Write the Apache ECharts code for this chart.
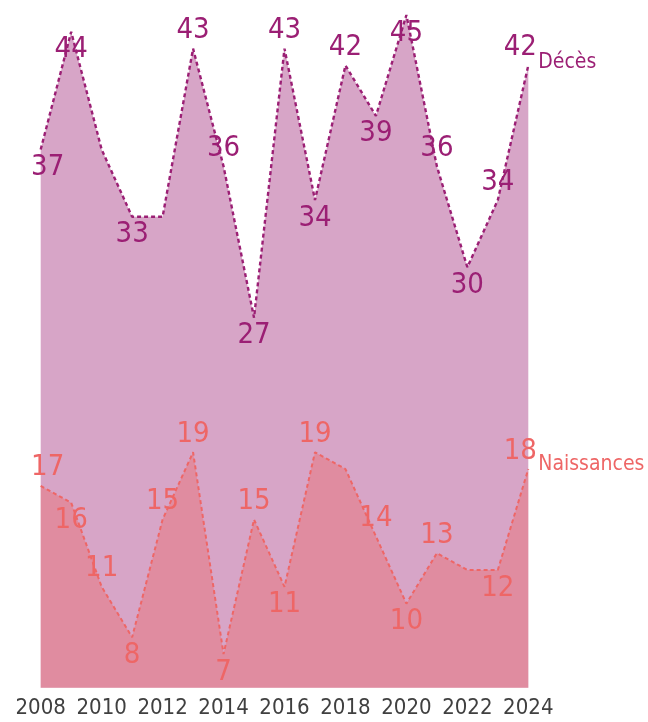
<!DOCTYPE html>
<html>
<head>
<meta charset="utf-8">
<script src="https://cdn.jsdelivr.net/npm/echarts@6/dist/echarts.min.js"></script>
<style>
html,body{margin:0;padding:0;background:#fff;}
#c{width:648px;height:722px;}
</style>
</head>
<body>
<div id="c"></div>
<script>
// ---- data ----
var years = ['2008','2009','2010','2011','2012','2013','2014','2015','2016','2017','2018','2019','2020','2021','2022','2023','2024'];
var deces = [37,44,37,33,33,43,36,27,43,34,42,39,45,36,30,34,42];
var naissances = [17,16,11,8,15,19,7,15,11,19,18,14,10,13,12,12,18];
var seriesNames = ['Décès','Naissances'];

// ---- label placement (style) ----
var decesSide = ['b','b','-','b','-','t','t','b','t','b','t','b','b','t','b','t','t'];
var naisSide  = ['t','b','t','b','t','t','b','t','b','t','-','t','b','t','-','b','t'];

var FONT = '"DejaVu Sans Condensed","DejaVu Sans",sans-serif';
var purple = '#9B1F74';
var salmon = '#EE6666';

function buildData(values, sides, color) {
  return values.map(function (v, i) {
    var s = sides[i];
    var dx = i === 0 ? 7 : (i === values.length - 1 ? -8 : 0);
    return {
      value: v,
      label: {
        show: s !== '-',
        position: s === 't' ? 'top' : 'bottom',
        distance: 3,
        offset: [dx, 0],
        color: color
      }
    };
  });
}

var chart = echarts.init(document.getElementById('c'), null, {renderer: 'canvas'});
chart.setOption({
  animation: false,
  backgroundColor: '#ffffff',
  grid: {left: 40.7, right: 119.7, top: 15, bottom: 34.3, containLabel: false},
  xAxis: {
    type: 'category',
    data: years,
    boundaryGap: false,
    axisLine: {show: false},
    axisTick: {show: false},
    axisLabel: {
      interval: 1,
      showMinLabel: true,
      showMaxLabel: true,
      color: '#404040',
      fontFamily: FONT,
      fontSize: 22,
      margin: 10
    }
  },
  yAxis: {
    type: 'value',
    min: 5,
    max: 45,
    show: false,
    splitLine: {show: false}
  },
  series: [
    {
      name: seriesNames[0],
      type: 'line',
      data: buildData(deces, decesSide, purple),
      symbol: 'circle',
      symbolSize: 1,
      showSymbol: true,
      itemStyle: {color: 'rgba(0,0,0,0)'},
      lineStyle: {color: purple, width: 2.4, type: [4, 3]},
      areaStyle: {color: purple, opacity: 0.4, origin: 'start'},
      label: {
        show: true,
        fontFamily: FONT,
        fontSize: 29
      },
      endLabel: {
        show: true,
        formatter: '{a}',
        color: purple,
        fontFamily: FONT,
        fontSize: 21,
        distance: 10,
        offset: [0, -3]
      },
      z: 2
    },
    {
      name: seriesNames[1],
      type: 'line',
      data: buildData(naissances, naisSide, salmon),
      symbol: 'circle',
      symbolSize: 1,
      showSymbol: true,
      itemStyle: {color: 'rgba(0,0,0,0)'},
      lineStyle: {color: salmon, width: 2, type: [4, 3]},
      areaStyle: {color: salmon, opacity: 0.4, origin: 'start'},
      label: {
        show: true,
        fontFamily: FONT,
        fontSize: 29
      },
      endLabel: {
        show: true,
        formatter: '{a}',
        color: salmon,
        fontFamily: FONT,
        fontSize: 21,
        distance: 10,
        offset: [0, -5]
      },
      z: 3
    }
  ]
});
</script>
</body>
</html>
